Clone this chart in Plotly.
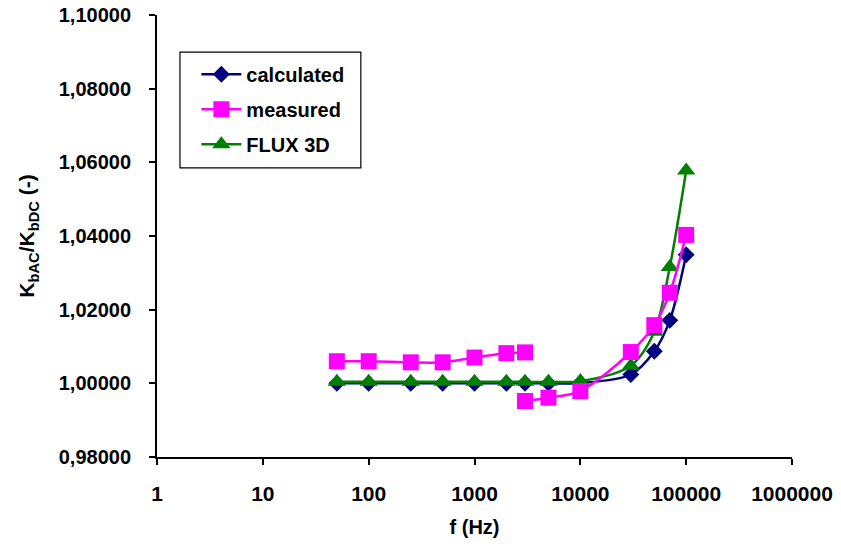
import plotly.graph_objects as go

# Frequencies (Hz)
f_calc = [50, 100, 250, 500, 1000, 2000, 3000, 5000, 10000, 30000, 50000, 70000, 100000]
k_calc = [1.0000, 1.0000, 1.0000, 1.0000, 1.0000, 1.0000, 1.0000, 1.0000, 1.0001, 1.0024, 1.0087, 1.0171, 1.0349]

f_meas = [50, 100, 250, 500, 1000, 2000, 3000, None, 3000, 5000, 10000, 30000, 50000, 70000, 100000]
k_meas = [1.0060, 1.0060, 1.0057, 1.0057, 1.0070, 1.0082, 1.0084, None, 0.9952, 0.9961, 0.9979, 1.0085, 1.0158, 1.0246, 1.0403]

f_flux = [50, 100, 250, 500, 1000, 2000, 3000, 5000, 10000, 30000, 50000, 70000, 100000]
k_flux = [1.0004, 1.0004, 1.0004, 1.0004, 1.0004, 1.0004, 1.0004, 1.0004, 1.0006, 1.0048, 1.0140, 1.0316, 1.0578]

x_tickvals = [1, 10, 100, 1000, 10000, 100000, 1000000]
x_ticktext = ["1", "10", "100", "1000", "10000", "100000", "1000000"]
y_tickvals = [0.98, 1.00, 1.02, 1.04, 1.06, 1.08, 1.10]

FONT = "Liberation Sans, Arial, sans-serif"

fig = go.Figure()
fig.add_trace(go.Scatter(
    x=f_calc, y=k_calc, name="calculated", mode="lines+markers",
    line=dict(color="#000080", width=2.5, shape="spline", smoothing=0.9),
    marker=dict(symbol="diamond", size=13, color="#000080"),
    legendrank=1, legendgroup="a"))
fig.add_trace(go.Scatter(
    x=f_flux, y=k_flux, name="FLUX 3D", mode="lines+markers",
    line=dict(color="#008000", width=2.5, shape="spline", smoothing=0.9),
    marker=dict(symbol="triangle-up", size=16, color="#008000"),
    legendrank=3, legendgroup="c"))
fig.add_trace(go.Scatter(
    x=f_meas, y=k_meas, name="measured", mode="lines+markers",
    line=dict(color="#FF00FF", width=2.5, shape="spline", smoothing=0.9),
    marker=dict(symbol="square", size=16, color="#FF00FF"),
    connectgaps=False,
    legendrank=2, legendgroup="b"))

# legend frame
fig.add_shape(type="rect", xref="paper", yref="paper",
              x0=0.0362, x1=0.321, y0=0.654, y1=0.916,
              line=dict(color="black", width=1.2), fillcolor="rgba(0,0,0,0)", layer="above")

fig.update_layout(
    width=841, height=553,
    margin=dict(l=157, r=49, t=15, b=96, autoexpand=False),
    paper_bgcolor="white", plot_bgcolor="white",
    separators=", ",
    font=dict(family=FONT, color="black"),
    showlegend=True,
    legend=dict(
        x=0.062, y=0.91, xanchor="left", yanchor="top",
        borderwidth=0, bgcolor="rgba(0,0,0,0)",
        font=dict(family=FONT, size=20, color="black", weight="bold"),
        traceorder="grouped", tracegroupgap=6, itemwidth=40,
    ),
)

fig.update_xaxes(
    type="log", range=[0, 6], automargin=False,
    tickmode="array", tickvals=x_tickvals, ticktext=x_ticktext,
    showgrid=False, zeroline=False,
    showline=True, linecolor="black", linewidth=2,
    ticks="outside", ticklen=6, tickwidth=2, tickcolor="black",
    tickfont=dict(family=FONT, size=21, color="black", weight="bold"),
    ticklabelstandoff=11,
    title=dict(text="f (Hz)", font=dict(family=FONT, size=20, color="black", weight="bold"), standoff=16),
)
fig.update_yaxes(
    range=[0.98, 1.10], automargin=False,
    tickmode="array", tickvals=y_tickvals, tickformat=".5f",
    showgrid=False, zeroline=False,
    showline=True, linecolor="black", linewidth=2,
    ticks="outside", ticklen=6, tickwidth=2, tickcolor="black",
    tickfont=dict(family=FONT, size=20, color="black", weight="bold"),
    ticklabelstandoff=14,
    title=dict(text="K<sub>bAC</sub>/K<sub>bDC</sub> (-)", font=dict(family=FONT, size=21, color="black", weight="bold"), standoff=18),
)

fig.write_html("out.html")
